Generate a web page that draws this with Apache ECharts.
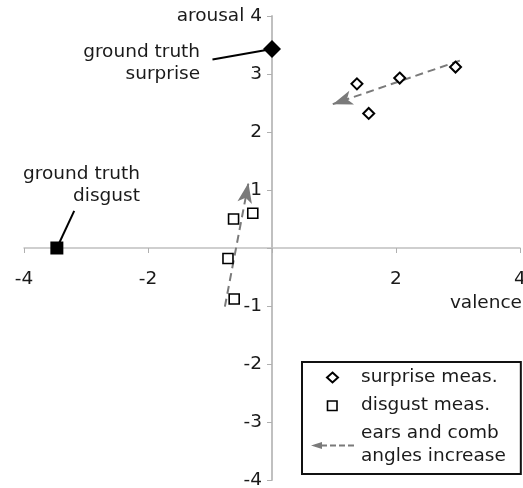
<!DOCTYPE html>
<html><head><meta charset="utf-8">
<script src="https://cdn.jsdelivr.net/npm/echarts@6/dist/echarts.min.js"></script>
<style>html,body{margin:0;padding:0;background:#fff}#c{width:523px;height:488px}</style>
</head><body><div id="c"></div>
<script>
// ---- data ----
var xTicks = [-4, -2, 0, 2, 4];
var yTicks = [-4, -3, -2, -1, 0, 1, 2, 3, 4];
var surpriseTruth = [[0, 3.43]];
var disgustTruth = [[-3.47, 0]];
var surpriseMeas = [[1.37, 2.83], [2.06, 2.93], [2.96, 3.12], [1.56, 2.32]];
var disgustMeas = [[-0.62, 0.50], [-0.31, 0.60], [-0.71, -0.18], [-0.61, -0.88]];
var surpriseTrend = [[3.03, 3.23], [0.98, 2.48]];
var disgustTrend = [[-0.76, -1.01], [-0.38, 1.12]];
var surpriseLeader = [[-0.96, 3.25], [0, 3.43]];
var disgustLeader = [[-3.19, 0.64], [-3.47, 0]];
var annotations = [[-1.16, 3.19, 'ground truth\nsurprise'], [-2.13, 1.09, 'ground truth\ndisgust']];
var legendNames = ['surprise meas.', 'disgust meas.', 'ears and comb\nangles increase'];

var FONT = 'DejaVu Sans';
var FS = 18.5;
var TXT = '#1a1a1a';
var GRAY = '#7a7a7a';
// legend icons drawn in a 50x11 box (the leading moveTo points fix the box)
var diamondIcon = 'path://M0 0M50 11M26.5 0.5L32 5.5L26.5 10.5L21 5.5Z';
var squareIcon = 'path://M0 0M50 11M21.5 1h9.5v9.5h-9.5Z';
var arrowIcon = 'path://M0 0M50 11M5 6L16 2.6L16 9.4Z M15 5h6v2h-6z M24 5h6v2h-6z M33 5h6v2h-6z M42 5h6v2h-6z';

// grid geometry (layout only)
var G = {left: 24, right: 3, top: 16, bottom: 8, w: 523 - 27, h: 488 - 24};

var chart = echarts.init(document.getElementById('c'), null, {renderer: 'canvas'});
var xMin = xTicks[0], xMax = xTicks[xTicks.length - 1];
var yMin = yTicks[0], yMax = yTicks[yTicks.length - 1];
// axes cross at the origin: shift axis from grid edge to zero
var xOffset = -G.h * (0 - yMin) / (yMax - yMin);
var yOffset = -G.w * (0 - xMin) / (xMax - xMin);

chart.setOption({
  animation: false,
  backgroundColor: '#fff',
  textStyle: {fontFamily: FONT},
  grid: {left: G.left, right: G.right, top: G.top, bottom: G.bottom, containLabel: false, outerBoundsMode: 'none'},
  xAxis: {
    type: 'value', min: xMin, max: xMax, interval: 2, position: 'bottom', offset: xOffset,
    axisLine: {onZero: false, lineStyle: {color: '#c0c0c0', width: 1.5}},
    axisTick: {show: true, length: 5, lineStyle: {color: '#b0b0b0', width: 1}},
    splitLine: {show: false},
    axisLabel: {margin: 22, fontSize: FS, color: TXT, fontFamily: FONT,
      formatter: function (v) { return v === 0 ? '' : String(v); }},
    name: 'valence', nameLocation: 'end', nameGap: 2, nameMoveOverlap: false,
    nameTextStyle: {fontSize: FS, color: TXT, fontFamily: FONT, align: 'right', verticalAlign: 'top', padding: [46, 0, 0, 0]}
  },
  yAxis: {
    type: 'value', min: yMin, max: yMax, interval: 1, position: 'left', offset: yOffset,
    axisLine: {onZero: false, lineStyle: {color: '#c0c0c0', width: 2}},
    axisTick: {show: true, length: 5, lineStyle: {color: '#b0b0b0', width: 1}},
    splitLine: {show: false},
    axisLabel: {margin: 10, fontSize: FS, color: TXT, fontFamily: FONT,
      formatter: function (v) { return v === 0 ? '' : (v === 4 ? 'arousal 4' : String(v)); }}
  },
  legend: {
    orient: 'vertical', left: 302, top: 362,
    backgroundColor: '#fff', borderColor: '#111', borderWidth: 2,
    padding: [4, 15, 6, 3], itemGap: 5, itemWidth: 50, itemHeight: 11,
    textStyle: {fontSize: FS, color: TXT, fontFamily: FONT, lineHeight: 23},
    selectedMode: false,
    data: [
      {name: legendNames[0], icon: diamondIcon, itemStyle: {color: '#fff', borderColor: '#000', borderWidth: 2}},
      {name: legendNames[1], icon: squareIcon, itemStyle: {color: '#fff', borderColor: '#000', borderWidth: 1.6}},
      {name: legendNames[2], icon: arrowIcon, itemStyle: {color: GRAY, borderWidth: 0}}
    ]
  },
  series: [
    {
      name: legendNames[2], type: 'lines', coordinateSystem: 'cartesian2d', z: 2,
      symbol: ['none', 'arrow'], symbolSize: [[1, 1], [11, 20]],
      lineStyle: {color: GRAY, width: 2, type: [8, 5], opacity: 1, curveness: 0},
      itemStyle: {color: GRAY},
      data: [{coords: surpriseTrend}, {coords: disgustTrend}]
    },
    {
      name: 'leaders', type: 'lines', coordinateSystem: 'cartesian2d', z: 2,
      symbol: ['none', 'none'],
      lineStyle: {color: '#000', width: 2, opacity: 1},
      data: [{coords: surpriseLeader}, {coords: disgustLeader}]
    },
    {
      name: legendNames[0], type: 'scatter', z: 4, symbol: 'diamond', symbolSize: 11,
      itemStyle: {color: '#fff', borderColor: '#000', borderWidth: 2, opacity: 1},
      data: surpriseMeas
    },
    {
      name: legendNames[1], type: 'scatter', z: 4, symbol: 'rect', symbolSize: 10,
      itemStyle: {color: '#fff', borderColor: '#000', borderWidth: 1.6, opacity: 1},
      data: disgustMeas
    },
    {
      name: 'truth surprise', type: 'scatter', z: 5, symbol: 'diamond', symbolSize: 18,
      itemStyle: {color: '#000', opacity: 1}, data: surpriseTruth
    },
    {
      name: 'truth disgust', type: 'scatter', z: 5, symbol: 'rect', symbolSize: 13,
      itemStyle: {color: '#000', opacity: 1}, data: disgustTruth
    },
    {
      name: 'annotations', type: 'scatter', z: 6, symbolSize: 0,
      itemStyle: {color: '#fff', opacity: 1},
      label: {show: true, position: 'left', distance: 0, fontSize: FS, lineHeight: 22,
        color: TXT, fontFamily: FONT, align: 'right', opacity: 1,
        formatter: function (p) { return p.data[2]; }},
      emphasis: {disabled: true},
      data: annotations
    }
  ]
});
</script></body></html>
